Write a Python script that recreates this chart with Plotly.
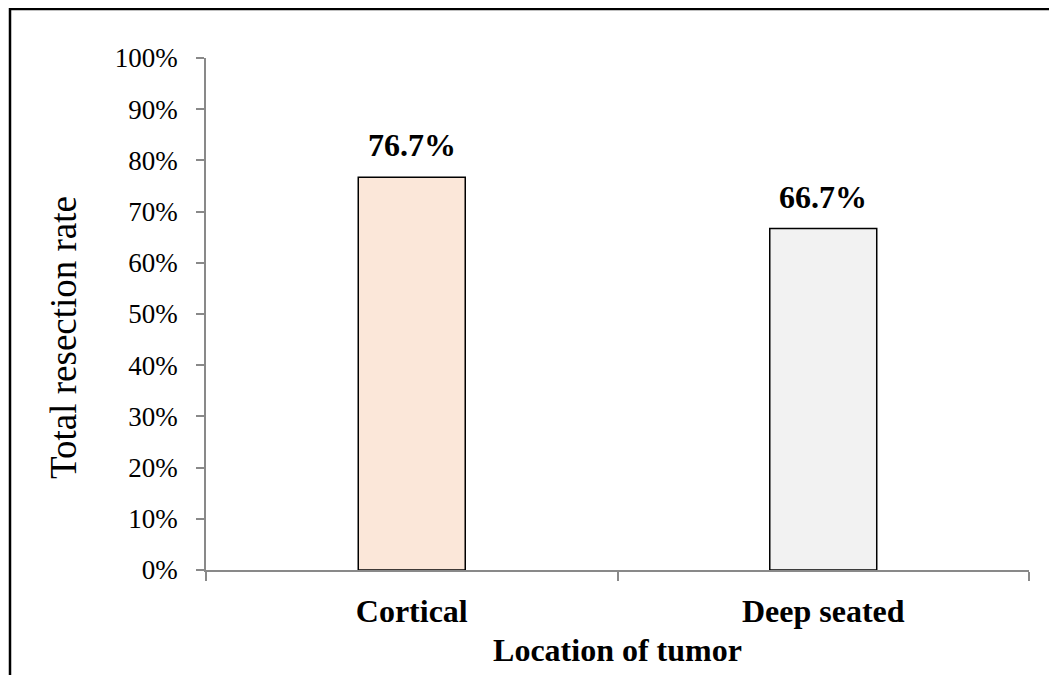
import plotly.graph_objects as go

categories = ["Cortical", "Deep seated"]
values = [76.7, 66.7]
labels = ["76.7%", "66.7%"]
colors = ["#FBE7D9", "#F2F2F2"]
y_ticks = list(range(0, 101, 10))
y_ticklabels = [f"{v}%" for v in y_ticks]
x_title = "Location of tumor"
y_title = "Total resection rate"

W, H = 1057, 675
OFF = 8  # page body margin
L, R, T, B = 206 - OFF, 28 + OFF, 58 - OFF, 105 + OFF
pw, ph = W - L - R, H - T - B

FONT = "Liberation Serif, Times New Roman, serif"

fig = go.Figure()
fig.add_trace(go.Bar(
    x=categories, y=values, width=0.26,
    marker=dict(color=colors, line=dict(color="black", width=1.5)),
    hoverinfo="skip",
))

for c, v, t in zip(categories, values, labels):
    fig.add_annotation(x=c, y=v, text=f"<b>{t}</b>", showarrow=False,
                       xref="x", yref="y", yanchor="bottom", yshift=12,
                       font=dict(family=FONT, size=32, color="black"))

# y-axis title as rotated annotation (placed like the reference)
fig.add_annotation(text=y_title, textangle=-90, showarrow=False,
                   xref="paper", yref="paper",
                   x=(63 - 206) / pw, y=(570 - 338) / ph,
                   xanchor="center", yanchor="middle",
                   font=dict(family=FONT, size=37, color="black"))

# outer frame (extends beyond the bottom/right of the view)
fx0 = 9 - OFF
fy0 = 8 - OFF
fig.add_shape(type="rect", xref="paper", yref="paper",
              x0=(fx0 + 1 - L) / pw, x1=(W + 30 - L) / pw,
              y0=-(H + 30 - (T + ph)) / ph, y1=(T + ph - fy0 - 1) / ph,
              line=dict(color="black", width=2.5), layer="below")

fig.update_layout(
    width=W, height=H,
    margin=dict(l=L, r=R, t=T, b=B, pad=0),
    paper_bgcolor="white", plot_bgcolor="white",
    showlegend=False,
    font=dict(family=FONT, color="black"),
)
fig.update_xaxes(
    type="category", range=[-0.5, 1.5],
    tickson="boundaries", ticks="outside", ticklen=9, tickcolor="#898989", tickwidth=1.5,
    showline=True, linecolor="#898989", linewidth=1.5, showgrid=False,
    tickfont=dict(family=FONT, size=32, color="black"),
    tickvals=categories, ticktext=[f"<b>{c}</b>" for c in categories],
    ticklabelstandoff=12,
    title=dict(text=f"<b>{x_title}</b>", font=dict(family=FONT, size=32, color="black"), standoff=10),
)
fig.update_yaxes(
    range=[0, 100], tickvals=y_ticks, ticktext=y_ticklabels,
    ticks="outside", ticklen=8, tickcolor="#898989", tickwidth=1.5,
    showline=True, linecolor="#898989", linewidth=1.5, showgrid=False, zeroline=False,
    tickfont=dict(family=FONT, size=27, color="black"),
    ticklabelstandoff=13,
)

fig.write_html("out.html")
